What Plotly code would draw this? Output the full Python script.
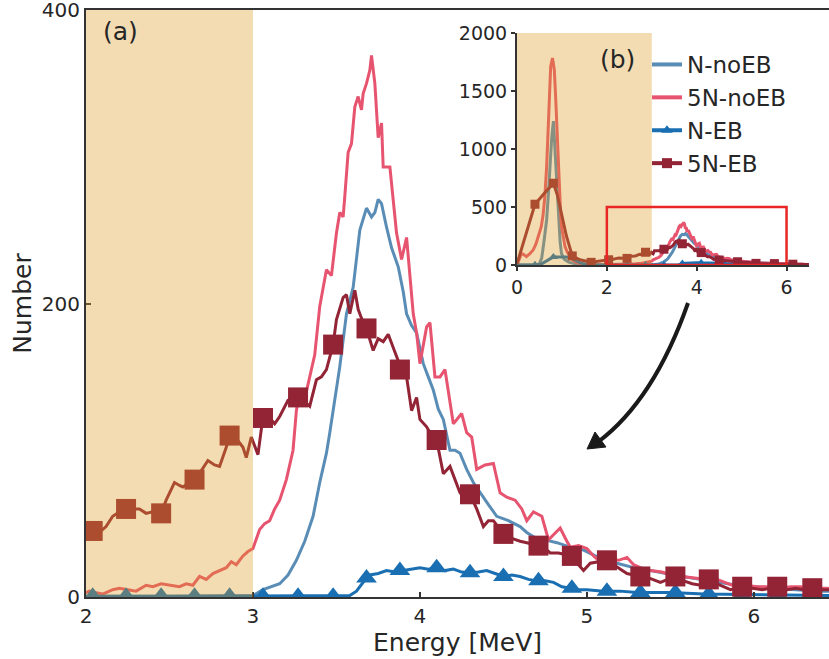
import plotly.graph_objects as go

# ---------------- data ----------------
# N-noEB
x_n_noeb = [0.0, 0.3, 0.45, 0.5, 0.55, 0.6, 0.66, 0.70, 0.73, 0.77, 0.81, 0.84, 0.88, 0.92, 0.96, 0.99,
            1.05, 1.15, 1.25, 1.4, 1.6, 1.8, 2.0, 2.5, 2.9, 3.0,
            3.06, 3.16, 3.21, 3.26, 3.31, 3.36, 3.40, 3.44, 3.46, 3.49, 3.52, 3.56, 3.60, 3.64, 3.68,
            3.71, 3.73, 3.75, 3.77, 3.80, 3.83, 3.87, 3.90, 3.92, 3.95, 3.98, 4.02, 4.05, 4.08, 4.11,
            4.14, 4.18, 4.21, 4.24, 4.28, 4.32, 4.36, 4.41, 4.46, 4.53, 4.60, 4.64, 4.68, 4.75, 4.82,
            4.90, 4.98, 5.05, 5.12, 5.18, 5.28, 5.38, 5.47, 5.57, 5.68, 5.78, 5.9, 6.0, 6.1, 6.25, 6.4, 6.5]
y_n_noeb = [0, 0, 2, 10, 60, 200, 390, 620, 820, 1080, 1240, 1020, 700, 390, 200, 100,
            50, 25, 14, 6, 2, 1, 0.5, 0.5, 0.5, 1,
            5, 9, 15, 25, 38, 55, 78, 98, 112, 135, 157, 193, 211, 250, 265,
            259, 262, 271, 268, 252, 238, 225, 208, 193, 185, 180, 159, 150, 141, 128,
            121, 100, 100, 98, 87, 78, 71, 63, 55, 52, 48, 44, 41, 39, 37,
            34, 32, 28, 26, 23, 20, 18, 16, 14, 12, 10, 8, 7, 6, 5, 4, 4]

# 5N-noEB
x_5n_noeb = [0.0, 0.05, 0.1, 0.15, 0.21, 0.28, 0.36, 0.42, 0.47, 0.54, 0.58, 0.62, 0.66, 0.69, 0.72,
             0.75, 0.79, 0.83, 0.86, 0.88, 0.91, 0.94, 0.97, 0.99, 1.03, 1.07, 1.12, 1.18, 1.25, 1.33,
             1.45, 1.63, 1.8, 2.0,
             2.02, 2.06, 2.1, 2.16, 2.2, 2.25, 2.3, 2.36, 2.4, 2.45, 2.5, 2.56, 2.6, 2.64, 2.68, 2.72,
             2.76, 2.8, 2.84, 2.87, 2.9, 2.94, 2.97, 3.0, 3.04, 3.07, 3.1, 3.13, 3.16, 3.2, 3.24, 3.26,
             3.28, 3.31, 3.34, 3.37, 3.40, 3.44, 3.47, 3.50, 3.52, 3.54, 3.55, 3.57, 3.59, 3.61, 3.63,
             3.65, 3.66, 3.68, 3.70, 3.71, 3.73, 3.75, 3.77, 3.78, 3.82, 3.86, 3.89, 3.92, 3.96, 3.98,
             4.0, 4.04, 4.06, 4.09, 4.12, 4.15, 4.20, 4.25, 4.28, 4.31, 4.34, 4.39, 4.44, 4.48, 4.52,
             4.57, 4.61, 4.64, 4.68, 4.73, 4.77, 4.81, 4.84, 4.88, 4.90, 4.95, 5.0, 5.04, 5.08, 5.13,
             5.19, 5.24, 5.28, 5.32, 5.38, 5.45, 5.5, 5.57, 5.65, 5.72, 5.78, 5.83, 5.87, 5.95, 6.02,
             6.08, 6.15, 6.22, 6.28, 6.35, 6.44, 6.5]
y_5n_noeb = [0, 60, 100, 90, 72, 95, 130, 180, 245, 330, 430, 590, 850, 1108, 1450,
             1712, 1785, 1684, 1450, 1252, 950, 676, 450, 331, 230, 158, 110, 72, 40, 20,
             10, 3, 2, 3,
             4, 3, 2, 5, 6, 5, 4, 8, 7, 9, 8, 7, 9, 8, 14, 12,
             16, 18, 20, 24, 22, 28, 31, 33, 46, 50, 52, 60, 66, 80, 100, 127,
             140, 135, 150, 165, 198, 223, 219, 248, 262, 259, 273, 303, 309, 334, 341,
             332, 343, 350, 359, 369, 350, 313, 323, 293, 293, 248, 230, 245, 193, 180,
             159, 184, 187, 150, 150, 155, 118, 125, 112, 109, 87, 90, 91, 71, 68,
             66, 60, 52, 58, 55, 39, 44, 47, 38, 34, 35, 33, 28, 24, 26,
             25, 27, 22, 20, 18, 17, 15, 14, 13, 12, 12, 10, 8, 8, 7,
             7, 6, 7, 7, 6, 6, 5]

# N-EB
x_n_eb = [0.0, 0.3, 0.45, 0.55, 0.65, 0.75, 0.81, 0.9, 1.0, 1.1, 1.2, 1.3, 1.4, 1.5, 1.6, 1.8, 2.0,
          2.5, 3.0, 3.5, 3.58, 3.62, 3.66, 3.7, 3.75, 3.8, 3.85, 3.9, 3.95, 4.0, 4.05, 4.1, 4.15, 4.2,
          4.25, 4.3, 4.35, 4.4, 4.45, 4.5, 4.55, 4.6, 4.65, 4.7, 4.75, 4.8, 4.85, 4.9, 4.95, 5.0, 5.1,
          5.2, 5.3, 5.4, 5.5, 5.7, 6.0, 6.3, 6.5]
y_n_eb = [0, 0, 2, 10, 35, 60, 70, 68, 70, 68, 60, 40, 20, 8, 3, 1, 0.5,
          0.5, 0.5, 0.5, 1, 4, 10, 15, 16, 18, 17, 18, 19, 20, 19, 20, 18, 19,
          17, 16.5, 17, 18, 16, 14, 15, 14, 12, 11, 11, 10, 7, 6, 5, 5, 4,
          4, 3, 3, 3, 2, 1.5, 1, 1]

# 5N-EB
x_5n_eb = [0.0, 0.4, 0.6, 0.81, 0.9, 1.03, 1.1, 1.23, 1.4, 1.65, 1.85, 2.0,
           2.04, 2.08, 2.12, 2.16, 2.2, 2.24, 2.28, 2.32, 2.36, 2.4, 2.45, 2.48, 2.53, 2.56, 2.58,
           2.62, 2.65, 2.69, 2.73, 2.77, 2.80, 2.84, 2.86, 2.9, 2.94, 2.96, 2.99, 3.03, 3.06, 3.1,
           3.13, 3.16, 3.21, 3.24, 3.27, 3.31, 3.34, 3.38, 3.41, 3.44, 3.46, 3.48, 3.50, 3.52, 3.54,
           3.56, 3.58, 3.61, 3.63, 3.65, 3.68, 3.72, 3.75, 3.78, 3.81, 3.85, 3.89, 3.92, 3.93, 3.95,
           3.98, 4.0, 4.04, 4.07, 4.10, 4.14, 4.18, 4.21, 4.24, 4.28, 4.30, 4.34, 4.38, 4.41, 4.44,
           4.48, 4.50, 4.55, 4.6, 4.64, 4.68, 4.71, 4.75, 4.78, 4.83, 4.88, 4.91, 4.95, 4.98, 5.02,
           5.06, 5.12, 5.16, 5.20, 5.24, 5.28, 5.32, 5.37, 5.44, 5.48, 5.53, 5.58, 5.63, 5.68, 5.73,
           5.78, 5.82, 5.86, 5.93, 6.0, 6.05, 6.1, 6.14, 6.2, 6.25, 6.3, 6.35, 6.4, 6.5]
y_5n_eb = [10, 524, 615, 705, 600, 389, 250, 78, 45, 23, 35, 46,
           45, 44, 48, 55, 58, 59, 60, 60, 57, 58, 57, 66, 78, 76, 75,
           78, 80, 86, 93, 90, 89, 102, 110, 108, 102, 95, 109, 97, 123, 122,
           118, 123, 134, 135, 136, 133, 130, 148, 150, 155, 164, 172, 189, 196, 204,
           206, 193, 209, 196, 190, 183, 168, 176, 174, 179, 167, 155, 150, 141, 127,
           136, 121, 116, 110, 107, 84, 89, 80, 71, 72, 70, 60, 48, 52, 52,
           46, 43, 40, 38, 37, 36, 35, 33, 30, 30, 29, 28, 22, 18, 23,
           24, 25, 22, 19, 16, 15, 14, 13, 10, 12, 14, 11, 9, 8, 12,
           9, 7, 5, 7, 6, 5, 6, 7, 5, 6, 5, 6, 5, 5]

# marker positions (main panel)
mk_x = [2.04, 2.24, 2.45, 2.65, 2.86, 3.06, 3.27, 3.48, 3.68, 3.88, 4.10, 4.30, 4.50, 4.71,
        4.91, 5.12, 5.32, 5.53, 5.73, 5.93, 6.14, 6.35]
sq_y = [45, 60, 57, 80, 110, 122, 136, 172, 183, 155, 107, 70, 43, 35, 28, 25, 14, 14, 12, 7, 7, 6]
tri_y = [0.5, 0.5, 0.5, 0.5, 0.5, 0.5, 0.5, 0.5, 13, 18, 20, 16.5, 14, 11, 6, 4, 3, 3, 2, 1.5, 1.5, 1]

# extra low-energy marker positions (inset)
mk_x_low = [0.40, 0.81, 1.23, 1.65]
sq_y_low = [524, 705, 78, 23]
tri_y_low = [2, 70, 60, 3]

series_names = ["N-noEB", "5N-noEB", "N-EB", "5N-EB"]
main_xticks = [2, 3, 4, 5, 6]
main_yticks = [0, 200, 400]
inset_xticks = [0, 2, 4, 6]
inset_yticks = [0, 500, 1000, 1500, 2000]

# ---------------- styling ----------------
C1 = "rgb(90,141,182)"
C2 = "rgb(231,84,112)"
C3 = "rgb(26,111,178)"
C4 = "rgb(146,36,54)"
TXT = "#262626"
AX = "#333333"
FONT = "DejaVu Sans"

W, H = 829, 659
L, R, T, B = 86, 0, 10, 62
PW, PH = W - L - R, H - T - B


def pp(px, py):
    return (px - L) / PW, (H - B - py) / PH


fig = go.Figure()

ins_x = mk_x_low + mk_x[::2]
ins_sq = sq_y_low + sq_y[::2]
ins_tri = tri_y_low + tri_y[::2]

for xa, ya, lw, msq, mtri in [("x", "y", 3, 20, 18), ("x2", "y2", 3, 9, 8)]:
    fig.add_trace(go.Scatter(x=x_n_noeb, y=y_n_noeb, mode="lines", line=dict(color=C1, width=lw),
                             xaxis=xa, yaxis=ya, showlegend=False, hoverinfo="skip"))
    fig.add_trace(go.Scatter(x=x_5n_noeb, y=y_5n_noeb, mode="lines", line=dict(color=C2, width=lw),
                             xaxis=xa, yaxis=ya, showlegend=False, hoverinfo="skip"))
    fig.add_trace(go.Scatter(x=x_n_eb, y=y_n_eb, mode="lines", line=dict(color=C3, width=lw),
                             xaxis=xa, yaxis=ya, showlegend=False, hoverinfo="skip"))
    if xa == "x":
        tx, ty = mk_x, tri_y
    else:
        tx, ty = ins_x, ins_tri
    fig.add_trace(go.Scatter(x=tx, y=ty, mode="markers",
                             marker=dict(symbol="triangle-up", size=mtri, color=C3, line=dict(width=0)),
                             xaxis=xa, yaxis=ya, showlegend=False, hoverinfo="skip"))
    fig.add_trace(go.Scatter(x=x_5n_eb, y=y_5n_eb, mode="lines", line=dict(color=C4, width=lw),
                             xaxis=xa, yaxis=ya, showlegend=False, hoverinfo="skip"))
    if xa == "x":
        sx, sy = mk_x, sq_y
    else:
        sx, sy = ins_x, ins_sq
    fig.add_trace(go.Scatter(x=sx, y=sy, mode="markers",
                             marker=dict(symbol="square", size=msq, color=C4, line=dict(width=0)),
                             xaxis=xa, yaxis=ya, showlegend=False, hoverinfo="skip"))

# legend entries
leg_styles = [
    dict(mode="lines", line=dict(color=C1, width=4)),
    dict(mode="lines", line=dict(color=C2, width=4)),
    dict(mode="lines+markers", line=dict(color=C3, width=4),
         marker=dict(symbol="triangle-up", size=10, color=C3)),
    dict(mode="lines+markers", line=dict(color=C4, width=4),
         marker=dict(symbol="square", size=10, color=C4)),
]
for i, (name, st) in enumerate(zip(series_names, leg_styles)):
    fig.add_trace(go.Scatter(x=[None], y=[None], name=name, legendgroup=f"g{i}",
                             xaxis="x2", yaxis="y2", showlegend=True, **st))

shade = "rgb(220,155,35)"
shapes = [
    dict(type="rect", xref="x", yref="y domain", x0=2, x1=3, y0=0, y1=1,
         fillcolor=shade, opacity=0.35, line=dict(width=0), layer="above"),
    dict(type="rect", xref="x2", yref="y2 domain", x0=0, x1=3, y0=0, y1=1,
         fillcolor=shade, opacity=0.35, line=dict(width=0), layer="above"),
    dict(type="rect", xref="x2", yref="y2", x0=2, x1=6, y0=0, y1=500,
         fillcolor="rgba(0,0,0,0)", line=dict(color="rgb(232,38,38)", width=2.5), layer="above"),
]

# curved arrow (paper coordinates)
p0 = pp(688, 303)
pc = pp(654, 400)
p1 = pp(598, 442)
shapes.append(dict(type="path", xref="paper", yref="paper",
                   path=f"M {p0[0]},{p0[1]} Q {pc[0]},{pc[1]} {p1[0]},{p1[1]}",
                   line=dict(color="#1a1a1a", width=4), fillcolor="rgba(0,0,0,0)", layer="above"))
h0 = pp(587, 449)
h1 = pp(606, 447)
h2 = pp(595, 432)
shapes.append(dict(type="path", xref="paper", yref="paper",
                   path=f"M {h0[0]},{h0[1]} L {h1[0]},{h1[1]} L {h2[0]},{h2[1]} Z",
                   line=dict(color="#1a1a1a", width=1), fillcolor="#1a1a1a", layer="above"))

ins_x0, ins_y1 = pp(517, 33)
ins_x1, ins_y0 = pp(809, 265)

ax_common = dict(showgrid=False, zeroline=False, showline=True, linecolor=AX, linewidth=2,
                 tickcolor=AX, tickwidth=1.5, color=TXT, automargin=False,
                 ticklabeloverflow="allow")

a_lab = pp(120, 31)
b_lab = pp(617, 60)
leg_pos = pp(647, 43)

fig.update_layout(
    width=W, height=H,
    margin=dict(l=L, r=R, t=T, b=B, autoexpand=False),
    paper_bgcolor="white", plot_bgcolor="rgba(0,0,0,0)",
    font=dict(family=FONT, color=TXT, size=20),
    xaxis=dict(domain=[0, 1], range=[2, 6.45], tickvals=main_xticks, ticks="inside", ticklen=5,
               mirror=True, tickfont=dict(size=20),
               title=dict(text="Energy [MeV]", font=dict(size=25), standoff=2), **ax_common),
    yaxis=dict(domain=[0, 1], range=[0, 400], tickvals=main_yticks, ticks="inside", ticklen=5,
               tickfont=dict(size=20),
               title=dict(text="Number", font=dict(size=25), standoff=3), **ax_common),
    xaxis2=dict(domain=[ins_x0, ins_x1], anchor="y2", range=[0, 6.5], tickvals=inset_xticks,
                ticks="outside", ticklen=4, tickfont=dict(size=19), **ax_common),
    yaxis2=dict(domain=[ins_y0, ins_y1], anchor="x2", range=[0, 2000], tickvals=inset_yticks,
                ticks="outside", ticklen=4, tickfont=dict(size=19), **ax_common),
    shapes=shapes,
    annotations=[
        dict(text="(a)", xref="paper", yref="paper", x=a_lab[0], y=a_lab[1], showarrow=False,
             font=dict(size=25, color=TXT), xanchor="center", yanchor="middle"),
        dict(text="(b)", xref="paper", yref="paper", x=b_lab[0], y=b_lab[1], showarrow=False,
             font=dict(size=25, color=TXT), xanchor="center", yanchor="middle"),
    ],
    legend=dict(x=leg_pos[0], y=leg_pos[1], xanchor="left", yanchor="top",
                bgcolor="rgba(0,0,0,0)", font=dict(size=23, color=TXT),
                traceorder="grouped", tracegroupgap=0, itemwidth=30),
    showlegend=True,
)

fig.write_html("out.html", config={"displayModeBar": False},
               post_script="document.body.style.margin='0';document.body.style.padding='0';")
